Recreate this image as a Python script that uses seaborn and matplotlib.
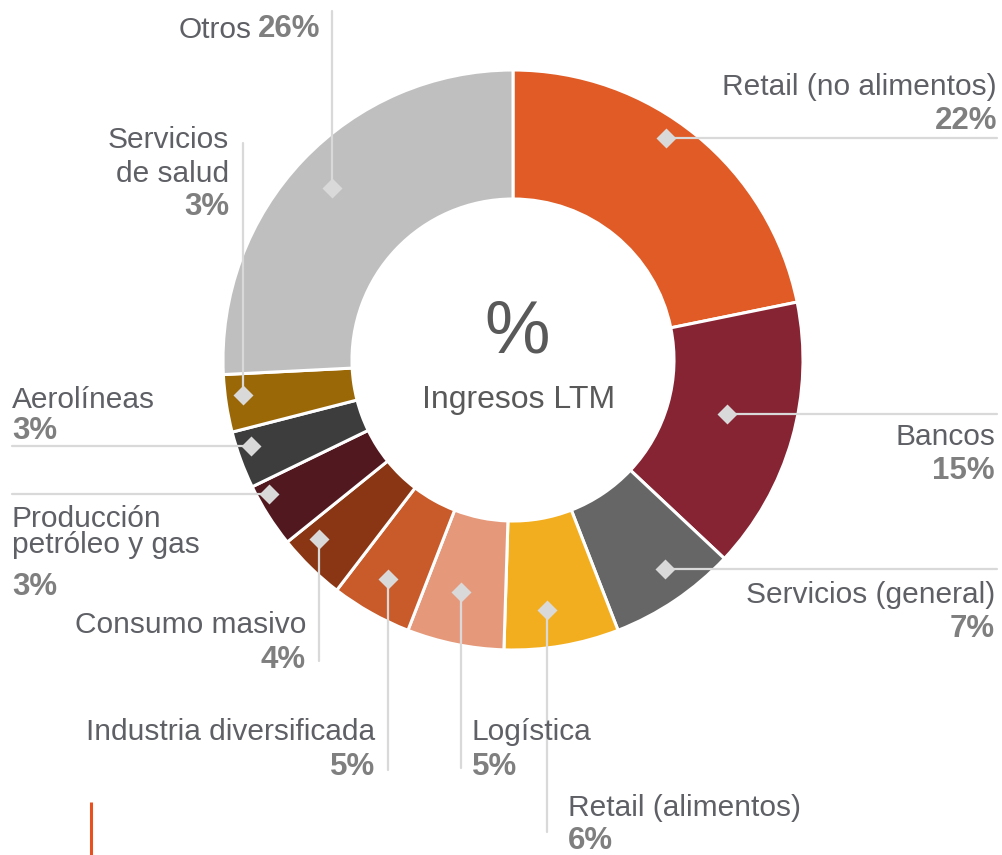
import numpy as np
import matplotlib
matplotlib.use('Agg')
import matplotlib.pyplot as plt
import seaborn as sns

# revenue share by sector (LTM), clockwise from 12 o'clock
sectors = ["Retail (no alimentos)", "Bancos", "Servicios (general)", "Retail (alimentos)",
           "Logística", "Industria diversificada", "Consumo masivo",
           "Producción\npetróleo y gas", "Aerolíneas", "Servicios\nde salud", "Otros"]
shares = [21.8, 15.2, 7.1, 6.4, 5.4, 4.5, 3.8, 3.6, 3.2, 3.2, 25.8]
share_labels = ["22%", "15%", "7%", "6%", "5%", "5%", "4%", "3%", "3%", "3%", "26%"]
colors = ["#E05B25", "#862433", "#666666", "#F3AE1F", "#E5997A", "#C95A2A",
          "#8A3513", "#521820", "#3D3D3D", "#9B6808", "#BFBFBF"]

# label layout (pixel units, y measured from the top)
# frac: where along the wedge the marker sits, rad: fraction of outer radius
frac = [0.44, 0.47, 0.42, 0.59, 0.56, 0.53, 0.73, 0.78, 0.67, 0.61, 0.50]
rad = [0.93, 0.76, 0.89, 0.87, 0.82, 0.87, 0.91, 0.96, 0.95, 0.94, 0.86]
leader = [("h", 997), ("h", 997), ("h", 997), ("v", 832), ("v", 768), ("v", 770),
          ("v", 661), ("h", 12), ("h", 12), ("v", 143), ("v", 11)]
text_x = [997, 995, 995, 568, 472, 375, 306, 12, 12, 229, 320]
text_ha = ["right", "right", "right", "left", "left", "right", "right",
           "left", "left", "right", "right"]
baselines = [[95, 129], [445, 479], [603, 637], [816, 849], [740, 775], [740, 775],
             [633, 668], [527, 553, 595], [408, 439], [148, 182, 215], [37]]

W, H = 1003, 855
cx, cy, R, r_in = 513, 360, 290, 161

sns.set_theme(style="white")
plt.rcParams['font.family'] = ['Liberation Sans', 'DejaVu Sans']

fig = plt.figure(figsize=(W / 100, H / 100), dpi=100)
ax = fig.add_axes([0, 0, 1, 1])


def Y(y):
    return H - y


ax.pie(shares, colors=colors, startangle=90, counterclock=False, radius=R,
       center=(cx, Y(cy)), wedgeprops=dict(width=R - r_in, edgecolor="white", linewidth=2.2))
ax.set_xlim(0, W)
ax.set_ylim(0, H)
ax.set_aspect("equal")
ax.axis("off")

label_col = "#5F6066"
pct_col = "#7F7F7F"
line_col = "#D9D9D9"
fs = 21.5
fs_pct = 22.5

# leader lines + diamond markers
cum = np.concatenate([[0], np.cumsum(shares)]) / sum(shares) * 360
for i in range(len(sectors)):
    ang = np.radians(cum[i] + frac[i] * (cum[i + 1] - cum[i]))
    mx = cx + rad[i] * R * np.sin(ang)
    my = cy - rad[i] * R * np.cos(ang)
    kind, end = leader[i]
    if kind == "h":
        ax.plot([mx, end], [Y(my), Y(my)], color=line_col, lw=1.6, zorder=3)
    else:
        ax.plot([mx, mx], [Y(my), Y(end)], color=line_col, lw=1.6, zorder=3)
    ax.plot(mx, Y(my), marker="D", ms=10, color=line_col, mec="none", zorder=4)

# sector labels
for i, name in enumerate(sectors[:-1]):
    lines = name.split("\n")
    for j, txt in enumerate(lines):
        ax.text(text_x[i], Y(baselines[i][j]), txt, ha=text_ha[i], va="baseline",
                fontsize=fs, color=label_col)
    ax.text(text_x[i], Y(baselines[i][-1]), share_labels[i], ha=text_ha[i], va="baseline",
            fontsize=fs_pct, color=pct_col, fontweight="bold")

# "Otros 26%" on a single line
t = ax.text(text_x[-1], Y(baselines[-1][0]), share_labels[-1], ha="right", va="baseline",
            fontsize=fs_pct, color=pct_col, fontweight="bold")
ax.annotate(sectors[-1], xy=(0, 0), xycoords=t, xytext=(-4, 0), textcoords="offset points",
            ha="right", va="bottom", fontsize=fs, color=label_col)

# centre text
ax.text(517, Y(352), "%", ha="center", va="baseline", fontsize=53, color="#595959")
ax.text(519, Y(408), "Ingresos LTM", ha="center", va="baseline", fontsize=23, color="#595959")

# small accent mark bottom-left
ax.plot([91.5, 91.5], [0, Y(802)], color="#E8511F", lw=2.2, solid_capstyle="butt")

fig.savefig("out.png", dpi=100)
